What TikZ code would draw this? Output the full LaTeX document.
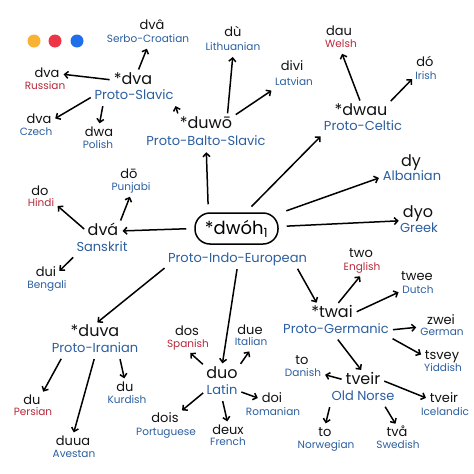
\documentclass[tikz,border=0pt]{standalone}
\usepackage{fontspec}
\setmainfont{Poppins}
\usetikzlibrary{arrows.meta}
\definecolor{wordblack}{HTML}{111111}
\definecolor{langblue}{HTML}{2B5FA0}
\definecolor{langred}{HTML}{B8283A}
\definecolor{dotyellow}{HTML}{F9B233}
\definecolor{dotred}{HTML}{EE3447}
\definecolor{dotblue}{HTML}{1F6FEB}

\begin{document}
\begin{tikzpicture}[x=1pt, y=-1pt,
      word/.style   = {inner sep=1pt, text=wordblack, text height=9pt, text depth=2pt,
                       font=\fontsize{13}{13}\selectfont},
      lang/.style   = {inner sep=1pt, text=langblue, text height=7.5pt, text depth=2pt,
                       font=\fontsize{10.5}{10.5}\selectfont},
      red lang/.style = {lang, text=langred},
      proto/.style  = {word, text height=11pt, text depth=2pt,
                       font=\fontsize{16}{16}\selectfont},
      proto lang/.style = {lang, text height=9.5pt, text depth=2.5pt,
                       font=\fontsize{13}{13}\selectfont},
      root/.style   = {draw, line width=1.5pt, rounded corners=15pt,
                       minimum width=83pt, minimum height=31pt, inner sep=2pt,
                       font=\fontsize{18}{18}\selectfont},
      arr/.style    = {-{Straight Barb[length=3.5pt,width=7pt]}, line width=1.5pt,
                       shorten <=3pt, shorten >=3pt},
      root arr/.style = {arr, shorten <=8pt}
    ]
    \useasboundingbox (0,0) rectangle (474,474);
    \fill[white] (0,0) rectangle (474,474);

    % window dots
    \fill[dotyellow] (34,41) circle (6.5);
    \fill[dotred]    (55,41) circle (6.5);
    \fill[dotblue]   (77,41) circle (6.5);

    % root
    \node[root] (pie)  at (236.5,228.5) {*dwóh\textsubscript{1}};
    \node[proto lang] (piel) at (237.5,259) {Proto-Indo-European};

    % Balto-Slavic
    \node[proto] (pbs)  at (206,124) {*duwō};
    \node[proto lang] (pbsl) at (206,142) {Proto-Balto-Slavic};
    \node[proto] (sla)  at (133,80)  {*dva};
    \node[proto lang] (slal) at (134,96) {Proto-Slavic};
    \node[word] (sc)  at (152,26)  {dvâ};
    \node[lang] (scl) at (148,40)  {Serbo-Croatian};
    \node[word] (ru)  at (47,74)   {dva};
    \node[red lang] (rul) at (45,87) {Russian};
    \node[word] (cz)  at (39,120)  {dva};
    \node[lang] (czl) at (36,133)  {Czech};
    \node[word] (pl)  at (99,133)  {dwa};
    \node[lang] (pll) at (98,146)  {Polish};
    \node[word] (lt)  at (233,33)  {dù};
    \node[lang] (ltl) at (233,48)  {Lithuanian};
    \node[word] (lv)  at (292,67)  {divi};
    \node[lang] (lvl) at (294,83)  {Latvian};

    % Celtic, Albanian, Greek
    \node[proto] (cel)  at (361,111) {*dwau};
    \node[proto lang] (cell) at (363,127) {Proto-Celtic};
    \node[word] (cy)  at (339,32)  {dau};
    \node[red lang] (cyl) at (341,45) {Welsh};
    \node[word] (ga)  at (425,63)  {dó};
    \node[lang] (gal) at (426,77)  {Irish};
    \node[proto] (sq)  at (411,162) {dy};
    \node[proto lang] (sql) at (412,177) {Albanian};
    \node[proto] (el)  at (418,213) {dyo};
    \node[proto lang] (ell) at (419,229) {Greek};

    % Indo-Aryan
    \node[proto] (sa)  at (103,231) {dvá};
    \node[proto lang] (sal) at (102,248) {Sanskrit};
    \node[word] (pa)  at (129,175) {dō};
    \node[lang] (pal) at (131,188) {Punjabi};
    \node[word] (hi)  at (40,192)  {do};
    \node[red lang] (hil) at (41,204) {Hindi};
    \node[word] (bn)  at (46,273)  {dui};
    \node[lang] (bnl) at (47,286)  {Bengali};

    % Iranian
    \node[proto] (ir)  at (95,332) {*duva};
    \node[proto lang] (irl) at (95,349) {Proto-Iranian};
    \node[word] (fa)  at (32,401)  {du};
    \node[red lang] (fal) at (33,413) {Persian};
    \node[word] (ku)  at (125,388) {du};
    \node[lang] (kul) at (127,401) {Kurdish};
    \node[word] (ae)  at (73,442)  {duua};
    \node[lang] (ael) at (74,455)  {Avestan};

    % Latin
    \node[proto] (la)  at (222,374) {duo};
    \node[proto lang] (lal) at (222,391) {Latin};
    \node[word] (es)  at (187,332) {dos};
    \node[red lang] (esl) at (188,345) {Spanish};
    \node[word] (it)  at (250,331) {due};
    \node[lang] (itl) at (251,343) {Italian};
    \node[word] (ro)  at (272,399) {doi};
    \node[lang] (rol) at (273,413) {Romanian};
    \node[word] (pt)  at (165,419) {dois};
    \node[lang] (ptl) at (166,433) {Portuguese};
    \node[word] (fr)  at (228,431) {deux};
    \node[lang] (frl) at (228,443) {French};

    % Germanic
    \node[proto] (gem)  at (332,313) {*twai};
    \node[proto lang] (geml) at (336,330) {Proto-Germanic};
    \node[word] (en)  at (361,254) {two};
    \node[red lang] (enl) at (362,268) {English};
    \node[word] (nl)  at (417,277) {twee};
    \node[lang] (nll) at (418,291) {Dutch};
    \node[word] (de)  at (441,321) {zwei};
    \node[lang] (del) at (442,333) {German};
    \node[word] (yi)  at (442,356) {tsvey};
    \node[lang] (yil) at (443,369) {Yiddish};
    \node[proto] (non)  at (363,380) {tveir};
    \node[proto lang] (nonl) at (363,397) {Old Norse};
    \node[word] (da)  at (302,361) {to};
    \node[lang] (dal) at (303,374) {Danish};
    \node[word] (is)  at (444,399) {tveir};
    \node[lang] (isl) at (445,413) {Icelandic};
    \node[word] (no)  at (325,433) {to};
    \node[lang] (nol) at (326,446) {Norwegian};
    \node[word] (sv)  at (397,433) {två};
    \node[lang] (svl) at (398,446) {Swedish};

    % from the root
    \draw[root arr] (pie.150) -- (pbsl);
    \draw[root arr] (pie.60) -- (cell.south west);
    \draw[root arr] (pie) -- (sql.west);
    \draw[root arr] (pie) -- (el.south west);
    \draw[arr] ([xshift=-12pt]piel.south east) -- ([xshift=8pt]gem.north west);
    \draw[arr] (piel.south) -- (la.north);
    \draw[arr] (piel.south west) -- (ir.north);
    \draw[root arr] (pie.west) -- (sa.east);

    % Balto-Slavic
    \draw[arr] (pbs.north west) -- (slal.south east);
    \draw[arr] ([xshift=-6pt]pbs.north east) -- (ltl.south);
    \draw[arr] (pbs.north east) -- (lvl.south west);
    \draw[arr] (sla.60) -- (scl.south);
    \draw[arr] (sla.west) -- (ru.east);
    \draw[arr] (slal.west) -- (cz.east);
    \draw[arr] ([xshift=10pt]slal.south west) -- (pl.north);

    % Celtic
    \draw[arr] (cel.north) -- (cyl.south);
    \draw[arr] (cel.north east) -- (gal.west);

    % Indo-Aryan
    \draw[arr] (sa.north east) -- (pal.south);
    \draw[arr] (sa.west) -- (hil.east);
    \draw[arr] (sal.south west) -- (bn.east);

    % Iranian
    \draw[arr] ([xshift=12pt]irl.south west) -- (fa.north east);
    \draw[arr] (irl.south) -- (ae.north);
    \draw[arr] ([xshift=-20pt]irl.south east) -- (ku.north);

    % Latin
    \draw[arr] (la.north west) -- (esl.south);
    \draw[arr] (la.north east) -- (itl.south);
    \draw[arr] (lal.east) -- (ro.west);
    \draw[arr] (lal.west) -- (pt.north east);
    \draw[arr] (lal.south) -- (fr.north);

    % Germanic
    \draw[arr] (gem.60) -- (enl.south);
    \draw[arr] (gem.east) -- (nll.west);
    \draw[arr] (geml.east) -- (del.north west);
    \draw[arr] (geml.south east) -- (yi.west);
    \draw[arr] (geml.south) -- (non.north);
    \draw[arr] (non.west) -- (dal.east);
    \draw[arr] (non.east) -- (is.west);
    \draw[arr] (nonl.south west) -- (no.north);
    \draw[arr] ([xshift=-12pt]nonl.south east) -- (sv.north);
  \end{tikzpicture}
\end{document}
